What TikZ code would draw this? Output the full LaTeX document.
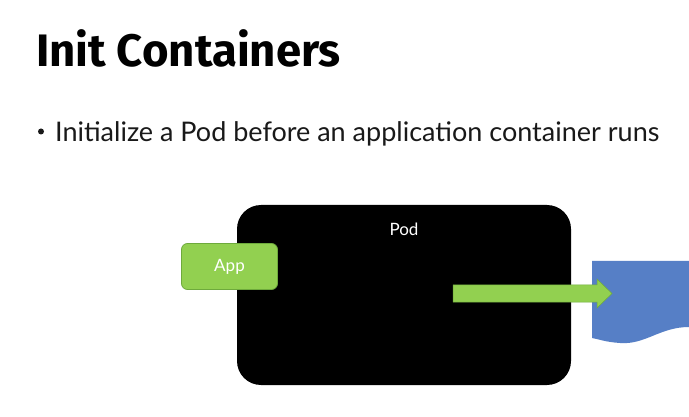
\documentclass[tikz,border=0pt]{standalone}
\usepackage{fontspec}
\setmainfont{Lato}
\newfontfamily\titlefont{Fira Sans}
\usetikzlibrary{calc}
\definecolor{appgreen}{RGB}{146,208,80}
\definecolor{appedge}{RGB}{110,170,60}
\definecolor{docblue}{RGB}{86,127,198}
\definecolor{textdark}{RGB}{25,25,25}
\tikzset{
  podbox/.style={fill=black, rounded corners=24pt},
  labeltext/.style={text=white, font=\fontsize{17}{20}\selectfont},
  appbox/.style={fill=appgreen, draw=appedge, line width=0.8pt, rounded corners=6pt,
    minimum width=96pt, minimum height=46pt, labeltext},
  flowarrow/.style={fill=appgreen, draw=appedge, line width=0.5pt},
  bodytext/.style={anchor=base west, inner sep=0pt, text=textdark, font=\fontsize{27}{32}\selectfont},
}
\begin{document}
\begin{tikzpicture}[x=1pt,y=-1pt]
  \useasboundingbox[fill=white] (0,0) rectangle (689,417);
  % heading
  \node[anchor=base west, inner sep=0pt, text=black,
        font=\titlefont\bfseries\fontsize{45.5}{50}\selectfont] (title) at (36,67) {Init Containers};
  % bullet line
  \fill[textdark] (41,131.5) circle (3pt);
  \node[bodytext] (bullet) at (55,142) {Initialize a Pod before an application container runs};
  % pod
  \path[podbox] (237,205) rectangle (571,385);
  \node[labeltext] (podlabel) at (404,229) {Pod};
  % app container
  \node[appbox] (app) at (229.5,266.5) {App};
  % blue document shape
  \fill[docblue] (592,261) -- (689,261) -- (689,327)
     .. controls (660,327) and (645,345) .. (620,343)
     .. controls (605,342) and (598,339) .. (592,338) -- cycle;
  % arrow
  \coordinate (flowstart) at (453,293.5);
  \draw[flowarrow] (flowstart) ++(0,-8.5) -- ++(144,0) -- ++(0,-6) -- (612,293.5)
     -- (597,308) -- ++(0,-6) -- ($(flowstart)+(0,8.5)$) -- cycle;
\end{tikzpicture}
\end{document}
